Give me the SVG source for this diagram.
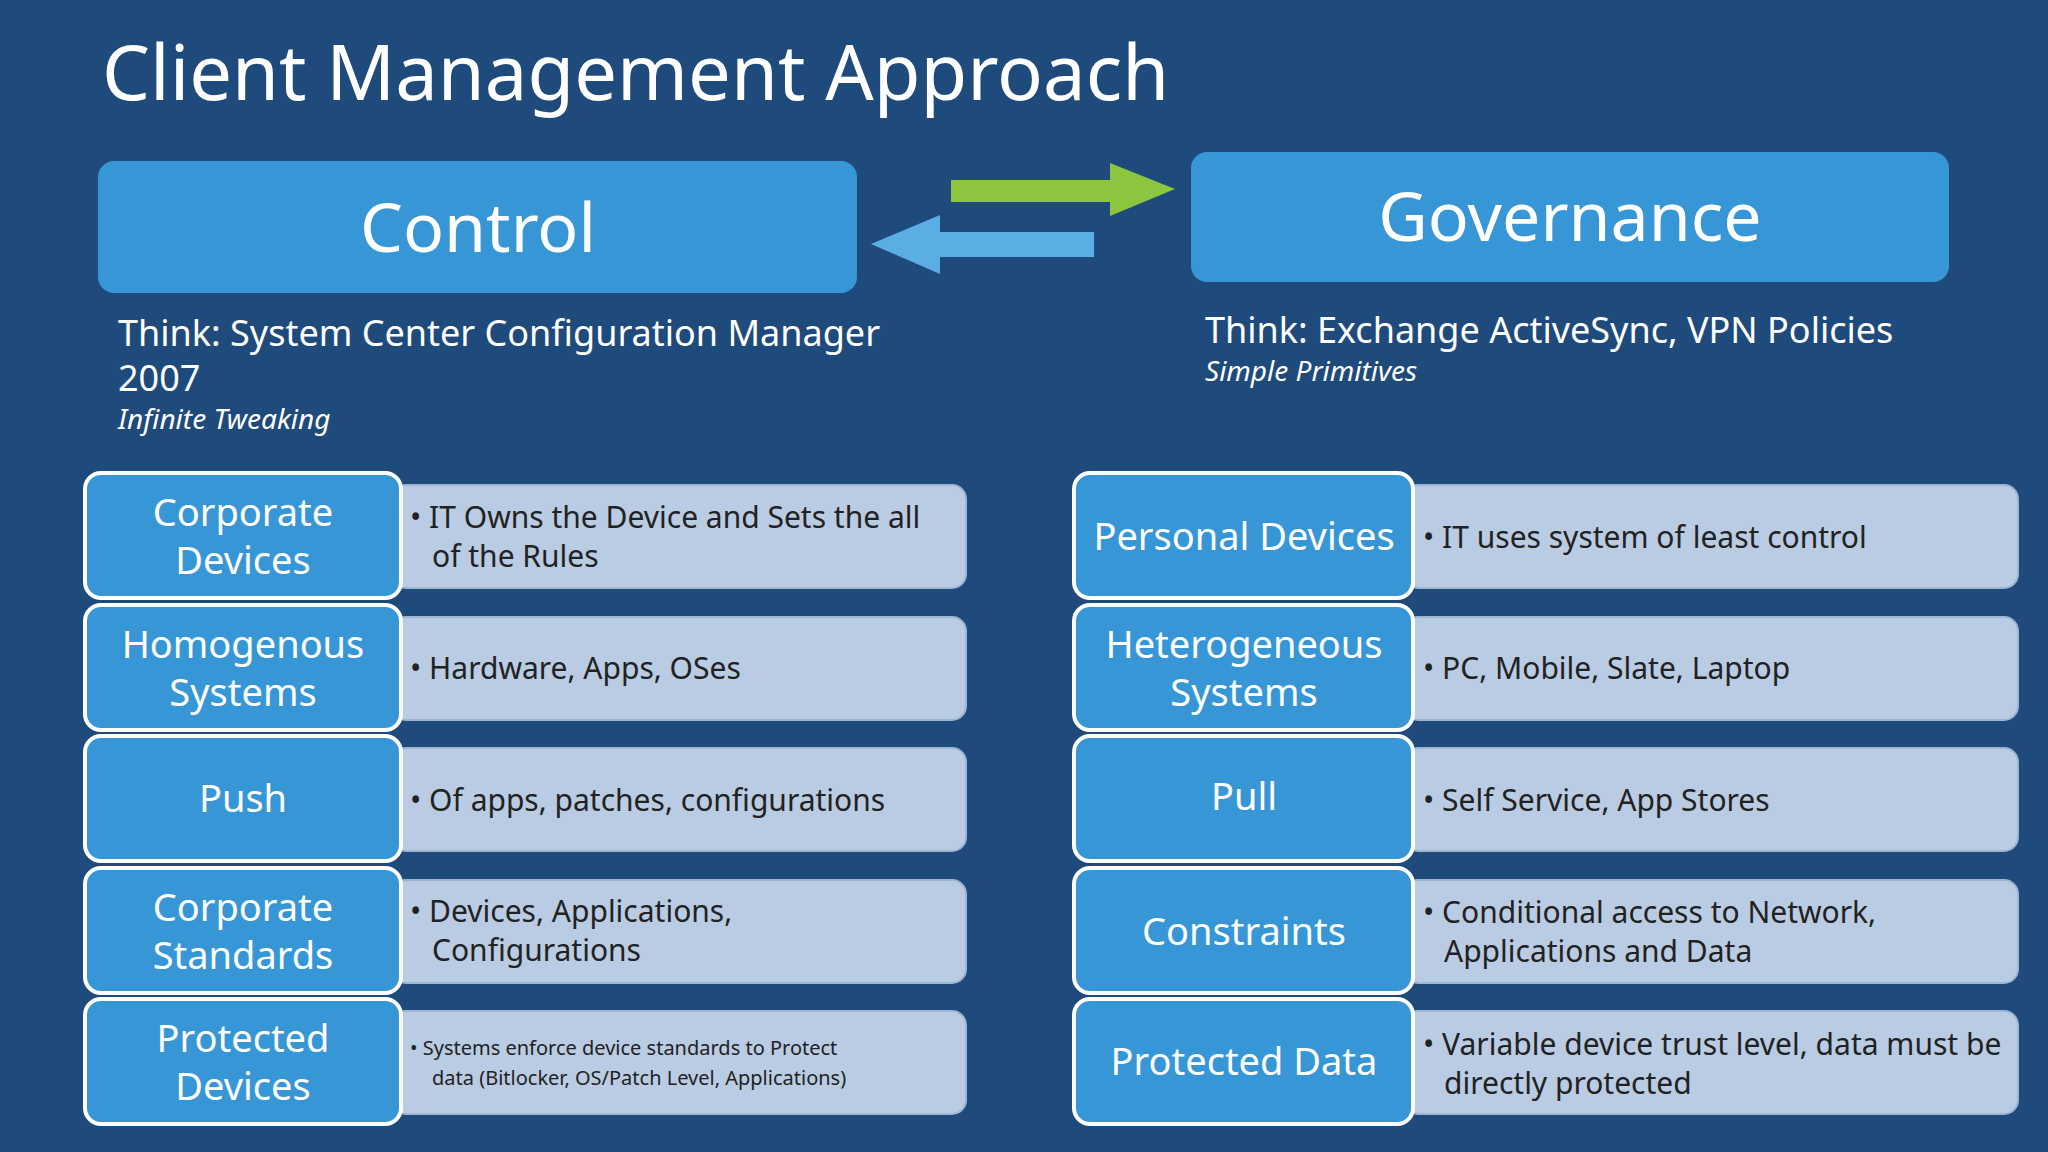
<svg xmlns="http://www.w3.org/2000/svg" width="2048" height="1152" viewBox="0 0 2048 1152">
<style>
text{font-family:"Noto Sans","Open Sans",sans-serif}
.big{fill:#3797d6}
.lab{fill:#fff;font-size:38px;text-anchor:middle}
.key{fill:#3797d6;stroke:#fff;stroke-width:4}
.det{fill:#b9cce3;stroke:#9fb6d3;stroke-width:2}
.dt{fill:#222;font-size:30px}
.th{fill:#fff;font-size:36px}
.it{fill:#fff;font-size:28px;font-style:italic}
</style>
<rect width="2048" height="1152" fill="#1f4a7c"/>
<text x="102" y="100" fill="#fff" style="font-size:76px">Client Management Approach</text>
<g id="control"><rect class="big" x="98" y="161" width="759" height="132" rx="16"/><text class="lab" x="478" y="252" style="font-size:68px">Control</text></g>
<g id="governance"><rect class="big" x="1191" y="152" width="758" height="130" rx="16"/><text class="lab" x="1570" y="241" style="font-size:68px">Governance</text></g>
<g id="connectors">
<polygon points="951,180 1110,180 1110,163 1175,189 1110,216 1110,202 951,202" fill="#8cc63f"/>
<polygon points="1094,232 940,232 940,215 871,244 940,274 940,257 1094,257" fill="#5aaee3"/>
</g>
<g id="think-left"><text class="th" x="118" y="346">Think: System Center Configuration Manager</text><text class="th" x="118" y="391">2007</text><text class="it" x="118" y="429">Infinite Tweaking</text></g>
<g id="think-right"><text class="th" x="1205" y="343">Think: Exchange ActiveSync, VPN Policies</text><text class="it" x="1205" y="381">Simple Primitives</text></g>

<g id="l1"><rect class="det" x="392" y="485" width="574" height="103" rx="14"/><rect class="key" x="85" y="473" width="316" height="125" rx="16"/><text class="lab"><tspan x="243" y="526">Corporate</tspan><tspan x="243" y="574">Devices</tspan></text><text class="dt"><tspan x="410" y="528">• IT Owns the Device and Sets the all</tspan><tspan x="432" y="567">of the Rules</tspan></text></g>
<g id="l2"><rect class="det" x="392" y="617" width="574" height="103" rx="14"/><rect class="key" x="85" y="605" width="316" height="125" rx="16"/><text class="lab"><tspan x="243" y="658">Homogenous</tspan><tspan x="243" y="706">Systems</tspan></text><text class="dt" x="410" y="679">• Hardware, Apps, OSes</text></g>
<g id="l3"><rect class="det" x="392" y="748" width="574" height="103" rx="14"/><rect class="key" x="85" y="736" width="316" height="125" rx="16"/><text class="lab" x="243" y="812">Push</text><text class="dt" x="410" y="811">• Of apps, patches, configurations</text></g>
<g id="l4"><rect class="det" x="392" y="880" width="574" height="103" rx="14"/><rect class="key" x="85" y="868" width="316" height="125" rx="16"/><text class="lab"><tspan x="243" y="921">Corporate</tspan><tspan x="243" y="969">Standards</tspan></text><text class="dt"><tspan x="410" y="922">• Devices, Applications,</tspan><tspan x="432" y="961">Configurations</tspan></text></g>
<g id="l5"><rect class="det" x="392" y="1011" width="574" height="103" rx="14"/><rect class="key" x="85" y="999" width="316" height="125" rx="16"/><text class="lab"><tspan x="243" y="1052">Protected</tspan><tspan x="243" y="1100">Devices</tspan></text><text class="dt" style="font-size:20px"><tspan x="410" y="1055">• Systems enforce device standards to Protect</tspan><tspan x="432" y="1085">data (Bitlocker, OS/Patch Level, Applications)</tspan></text></g>

<g id="r1"><rect class="det" x="1404" y="485" width="614" height="103" rx="14"/><rect class="key" x="1074" y="473" width="339" height="125" rx="16"/><text class="lab" x="1244" y="550">Personal Devices</text><text class="dt" x="1423" y="548">• IT uses system of least control</text></g>
<g id="r2"><rect class="det" x="1404" y="617" width="614" height="103" rx="14"/><rect class="key" x="1074" y="605" width="339" height="125" rx="16"/><text class="lab"><tspan x="1244" y="658">Heterogeneous</tspan><tspan x="1244" y="706">Systems</tspan></text><text class="dt" x="1423" y="679">• PC, Mobile, Slate, Laptop</text></g>
<g id="r3"><rect class="det" x="1404" y="748" width="614" height="103" rx="14"/><rect class="key" x="1074" y="736" width="339" height="125" rx="16"/><text class="lab" x="1244" y="810">Pull</text><text class="dt" x="1423" y="811">• Self Service, App Stores</text></g>
<g id="r4"><rect class="det" x="1404" y="880" width="614" height="103" rx="14"/><rect class="key" x="1074" y="868" width="339" height="125" rx="16"/><text class="lab" x="1244" y="945">Constraints</text><text class="dt"><tspan x="1423" y="923">• Conditional access to Network,</tspan><tspan x="1444" y="962">Applications and Data</tspan></text></g>
<g id="r5"><rect class="det" x="1404" y="1011" width="614" height="103" rx="14"/><rect class="key" x="1074" y="999" width="339" height="125" rx="16"/><text class="lab" x="1244" y="1075">Protected Data</text><text class="dt"><tspan x="1423" y="1055">• Variable device trust level, data must be</tspan><tspan x="1444" y="1094">directly protected</tspan></text></g>
</svg>
